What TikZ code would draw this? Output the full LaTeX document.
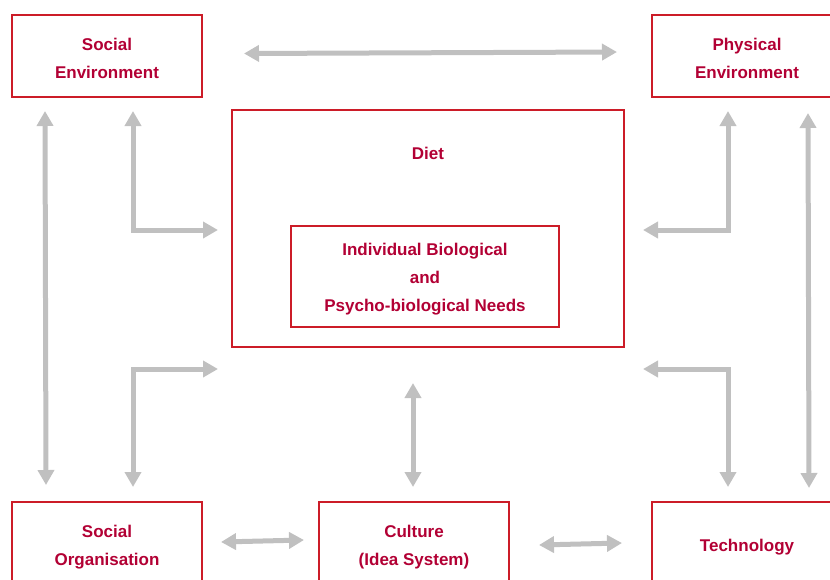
\documentclass[tikz,border=0pt]{standalone}
\usepackage{fontspec}
\setmainfont{Liberation Sans}
\usetikzlibrary{arrows.meta}
\definecolor{txtred}{RGB}{178,0,52}
\definecolor{boxred}{RGB}{204,28,40}
\definecolor{arrgray}{RGB}{192,192,192}
\tikzset{
  box/.style={draw=boxred, line width=1.3pt, inner sep=0pt},
  lbl/.style={inner sep=0pt, align=center, text=txtred,
    font=\fontsize{17}{28}\selectfont\bfseries},
  blbl/.style={lbl, yshift=-2.7pt},
  arr/.style={draw=arrgray, line width=5pt,
    {Triangle[width=16pt,length=15pt]}-{Triangle[width=16pt,length=15pt]}},
}
\begin{document}
\begin{tikzpicture}[x=1pt,y=-1pt]
\useasboundingbox (0,0) rectangle (830,579);
\clip (0,0) rectangle (830,579);
% boxes
\node[box, minimum width=190pt, minimum height=82pt,
  label={[blbl]center:Social\\Environment}] (se) at (107,56) {};
\node[box, minimum width=190pt, minimum height=82pt,
  label={[blbl]center:Physical\\Environment}] (pe) at (747,56) {};
\node[box, minimum width=392pt, minimum height=237pt] (diet) at (428,228.5) {};
\node[lbl] (dietl) at (428,153) {Diet};
\node[box, minimum width=268pt, minimum height=101pt,
  label={[blbl]center:Individual Biological\\and\\Psycho-biological Needs}] (ind) at (425,276.5) {};
\node[box, minimum width=190pt, minimum height=84pt,
  label={[blbl]center:Social\\Organisation}] (so) at (107,544) {};
\node[box, minimum width=190pt, minimum height=84pt,
  label={[blbl]center:Culture\\(Idea System)}] (cu) at (414,544) {};
\node[box, minimum width=190pt, minimum height=84pt,
  label={[blbl]center:Technology}] (te) at (747,544) {};
% arrow end points
\coordinate (t1) at (244,53.5);
\coordinate (t2) at (617,52);
\coordinate (l1) at (45,111);
\coordinate (l2) at (46,485);
\coordinate (a1) at (133,111);
\coordinate (a2) at (218,230);
\coordinate (b1) at (133,487);
\coordinate (b2) at (218,369);
\coordinate (c1) at (728,111);
\coordinate (c2) at (643,230);
\coordinate (d1) at (643,369);
\coordinate (d2) at (728,487);
\coordinate (r1) at (808,113);
\coordinate (r2) at (809,488);
\coordinate (m1) at (413,383);
\coordinate (m2) at (413,487);
\coordinate (s1) at (221,542);
\coordinate (s2) at (304,540);
\coordinate (u1) at (539,545);
\coordinate (u2) at (622,543);
% arrows
\draw[arr] (t1) -- (t2);
\draw[arr] (l1) -- (l2);
\draw[arr] (a1) |- (a2);
\draw[arr] (b1) |- (b2);
\draw[arr] (c1) |- (c2);
\draw[arr] (d1) -| (d2);
\draw[arr] (r1) -- (r2);
\draw[arr] (m1) -- (m2);
\draw[arr] (s1) -- (s2);
\draw[arr] (u1) -- (u2);
\end{tikzpicture}
\end{document}
